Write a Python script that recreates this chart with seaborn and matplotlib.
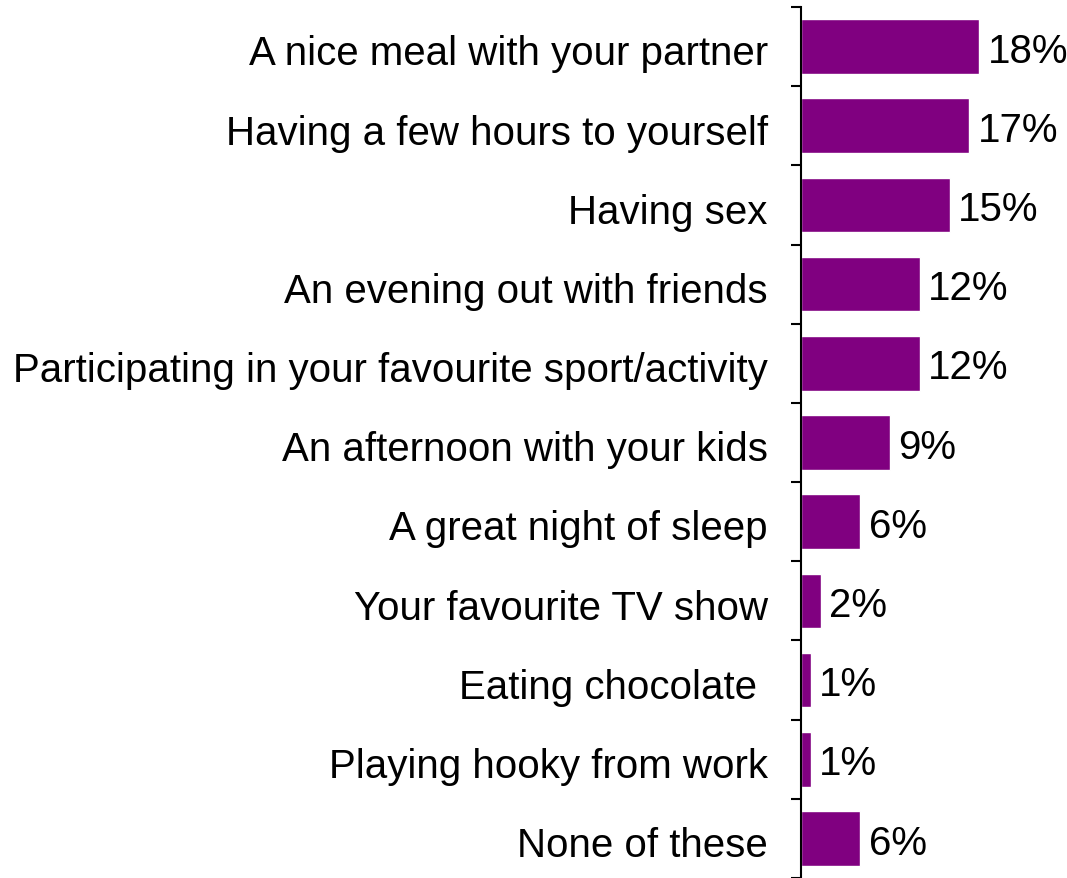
import numpy as np
import pandas as pd
import matplotlib
matplotlib.use("Agg")
import matplotlib.pyplot as plt
import matplotlib.transforms as mtransforms
import seaborn as sns

# Data
categories = [
    "A nice meal with your partner",
    "Having a few hours to yourself",
    "Having sex",
    "An evening out with friends",
    "Participating in your favourite sport/activity",
    "An afternoon with your kids",
    "A great night of sleep",
    "Your favourite TV show",
    "Eating chocolate ",
    "Playing hooky from work",
    "None of these",
]
values = [18, 17, 15, 12, 12, 9, 6, 2, 1, 1, 6]

df = pd.DataFrame({"category": categories, "value": values})

sns.set_style("white")
plt.rcParams["font.family"] = ["Liberation Sans", "DejaVu Sans"]
plt.rcParams["text.color"] = "black"
plt.rcParams["ytick.color"] = "black"
plt.rcParams["ytick.labelcolor"] = "black"

fig = plt.figure(figsize=(10.67, 8.79), dpi=100)
ax = fig.add_axes([801 / 1067, 0.0, 266 / 1067, 871 / 879])

sns.barplot(data=df, x="value", y="category", orient="h", color="#800080",
            saturation=1, width=0.69, ax=ax)

ax.set_xlim(0, 266 / 9.9)
ax.set_ylim(len(categories) - 0.5, -0.5)
ax.set_xlabel("")
ax.set_ylabel("")
ax.set_xticks([])

for s in ["top", "right", "bottom"]:
    ax.spines[s].set_visible(False)
ax.spines["left"].set_color("black")
ax.spines["left"].set_linewidth(1.5)

# category labels without ticks, boundary ticks as minor ticks
ax.tick_params(axis="y", which="major", left=True, length=0, pad=24,
               labelsize=29, labelcolor="black")
ax.set_yticks(np.arange(-0.5, len(categories)), minor=True)
ax.tick_params(axis="y", which="minor", left=True, length=7, width=1.5,
               direction="out", color="black")

# nudge labels down a little
shift = mtransforms.ScaledTranslation(0, -2 / 72, fig.dpi_scale_trans)
for lbl in ax.get_yticklabels():
    lbl.set_transform(lbl.get_transform() + shift)

texts = ax.bar_label(ax.containers[0], labels=[f"{v}%" for v in values],
                     padding=6, fontsize=29, color="black")
for t in texts:
    x0, y0 = t.xyann
    t.xyann = (x0, y0 - 3)

fig.savefig("out.png", dpi=100)
